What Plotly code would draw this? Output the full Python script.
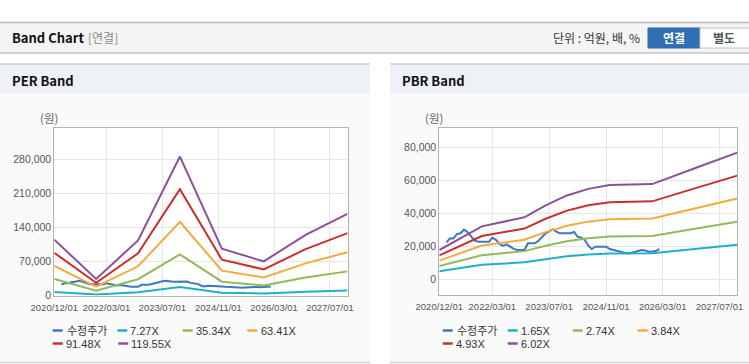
import plotly.graph_objects as go
import pandas as pd

W, H = 749, 364

# ---------------- data ----------------
tick_dates = ["2020-12-01", "2022-03-01", "2023-07-01", "2024-11-01", "2026-03-01", "2027-07-01"]
tick_labels = ["2020/12/01", "2022/03/01", "2023/07/01", "2024/11/01", "2026/03/01", "2027/07/01"]

# adjusted share price (수정주가), monthly from 2021/02
price_dates = pd.date_range("2021-02-01", periods=61, freq="MS")
price = [22500, 24900, 24900, 27500, 28000, 30200, 28600, 26000, 23500, 22900,
         22900, 22900, 22900, 25300, 24000, 21500, 20400, 21300, 20000, 18500,
         17800, 17800, 17800, 21900, 21900, 21900, 23500, 25500, 28000, 29200,
         30400, 29000, 28000, 28000, 28000, 28000, 28800, 25900, 25300, 23900,
         20500, 18400, 19800, 19800, 19800, 19800, 18400, 17800, 17200, 16500,
         16000, 15800, 16000, 16500, 17200, 17800, 17500, 16800, 17000, 17200,
         18400]

# PER band
per_dates = ["2020-12-01", "2021-12-01", "2022-12-01", "2023-12-01", "2024-12-01",
             "2025-12-01", "2026-12-01", "2027-12-01"]
per_names = ["7.27X", "35.34X", "63.41X", "91.48X", "119.55X"]
per_7_27 = [6957, 2065, 6870, 17332, 5838, 4253, 7561, 10178]
per_35_34 = [33820, 10037, 33396, 84251, 28378, 20674, 36754, 49476]
per_63_41 = [60683, 18008, 59922, 151169, 50918, 37095, 65946, 88774]
per_91_48 = [87546, 25980, 86449, 218088, 73458, 53516, 95139, 128072]
per_119_55 = [114409, 33952, 112975, 285007, 95999, 69937, 124332, 167370]
per_yticks = [0, 70000, 140000, 210000, 280000]

# PBR band
pbr_dates = ["2020-12-01", "2021-12-01", "2022-12-01", "2023-06-01", "2023-12-01",
             "2024-06-01", "2024-12-01", "2025-12-01", "2026-12-01", "2027-12-01"]
pbr_names = ["1.65X", "2.74X", "3.84X", "4.93X", "6.02X"]
pbr_1_65 = [4879, 8826, 10332, 12334, 13979, 15074, 15705, 15870, 18501, 21105]
pbr_2_74 = [8102, 14656, 17158, 20482, 23213, 25033, 26079, 26353, 30724, 35047]
pbr_3_84 = [11355, 20540, 24046, 28704, 32532, 35082, 36549, 36933, 43058, 49117]
pbr_4_93 = [14578, 26371, 30872, 36852, 41767, 45040, 46924, 47417, 55280, 63060]
pbr_6_02 = [17801, 32201, 37697, 45000, 51001, 54999, 57298, 57900, 67502, 77002]
pbr_yticks = [0, 20000, 40000, 60000, 80000]

colors = ["#3b78c4", "#1fb0c6", "#93ba58", "#f4aa3c", "#c8302b", "#8e4f9d"]

# ---------------- helpers ----------------
def fx(px):
    return px / W

def fy(py):
    return 1 - py / H

fig = go.Figure()

per_series = [per_7_27, per_35_34, per_63_41, per_91_48, per_119_55]
pbr_series = [pbr_1_65, pbr_2_74, pbr_3_84, pbr_4_93, pbr_6_02]

fig.add_trace(go.Scatter(x=price_dates, y=price, mode="lines", name="수정주가",
                         line=dict(color=colors[0], width=2), xaxis="x", yaxis="y"))
for i, s in enumerate(per_series):
    fig.add_trace(go.Scatter(x=per_dates, y=s, mode="lines", name=per_names[i],
                             line=dict(color=colors[i + 1], width=2), xaxis="x", yaxis="y"))
fig.add_trace(go.Scatter(x=price_dates, y=price, mode="lines", name="수정주가",
                         line=dict(color=colors[0], width=2), xaxis="x2", yaxis="y2"))
for i, s in enumerate(pbr_series):
    fig.add_trace(go.Scatter(x=pbr_dates, y=s, mode="lines", name=pbr_names[i],
                             line=dict(color=colors[i + 1], width=2), xaxis="x2", yaxis="y2"))

grid = "#e6e6e6"
frame = "#b3b3b3"
tickfont_x = dict(family="Liberation Sans, Arial, sans-serif", size=9.5, color="#555")
tickfont_y = dict(family="Liberation Sans, Arial, sans-serif", size=10.5, color="#555")

def xax(domain, anchor):
    return dict(domain=domain, anchor=anchor, type="date",
                range=["2020-12-01", "2027-12-01"],
                tickmode="array", tickvals=tick_dates, ticktext=tick_labels,
                showgrid=True, gridcolor=grid, gridwidth=1,
                showline=True, linecolor=frame, linewidth=1, mirror=True,
                ticks="", tickfont=tickfont_x, zeroline=False, fixedrange=True,
                automargin=False, ticklabelstandoff=3)

def yax(domain, anchor, rng, ticks):
    return dict(domain=domain, anchor=anchor, range=rng,
                tickmode="array", tickvals=ticks, ticktext=[f"{t:,}" for t in ticks],
                showgrid=True, gridcolor=grid, gridwidth=1,
                showline=True, linecolor=frame, linewidth=1, mirror=True,
                ticks="", tickfont=tickfont_y, zeroline=False, fixedrange=True,
                automargin=False)

shapes = []
annotations = []

def rect(x0, y0, x1, y1, fill, line=None, layer="below"):
    shapes.append(dict(type="rect", xref="paper", yref="paper",
                       x0=fx(x0), x1=fx(x1), y0=fy(y1), y1=fy(y0),
                       fillcolor=fill, line=dict(width=1 if line else 0, color=line or fill),
                       layer=layer))

def hline(x0, x1, y, color, width=1):
    shapes.append(dict(type="line", xref="paper", yref="paper",
                       x0=fx(x0), x1=fx(x1), y0=fy(y), y1=fy(y),
                       line=dict(color=color, width=width), layer="below"))

def text(x, y, s, size=12, color="#333", bold=False, anchor="left",
         family="Noto Sans CJK KR, sans-serif"):
    annotations.append(dict(xref="paper", yref="paper", x=fx(x), y=fy(y),
                            text=f"<b>{s}</b>" if bold else s, showarrow=False,
                            xanchor=anchor, yanchor="middle",
                            font=dict(size=size, color=color, family=family)))

# top header bar
rect(0, 22, W, 53, "#f4f4f4")
hline(0, W, 22.5, "#b9b9b9", 1.5)
hline(0, W, 53, "#c6c6c6", 1.5)
text(10, 38, "Band Chart", size=13, color="#111", bold=True)
text(86, 38, "[연결]", size=12, color="#888")
text(551, 38, "단위 : 억원, 배, %", size=12, color="#333")
rect(648, 28, 700, 48, "#2f6fb4", line="#2a65a6")
text(674, 38, "연결", size=12, color="#ffffff", bold=True, anchor="center")
rect(700, 28, 752, 48, "#ffffff", line="#c4c4c4")
text(724, 38, "별도", size=12, color="#555", bold=True, anchor="center")

# panels
for (px0, px1, title) in [(0, 370, "PER Band"), (390, 749, "PBR Band")]:
    rect(px0, 64, px1, 362, "#fafafa")
    rect(px0, 64, px1, 93, "#eef1f6")
    hline(px0, px1, 64, "#cfcfcf", 1.5)
    hline(px0, px1, 362.5, "#d0d0d0", 1.5)
    text(px0 + 10, 80, title, size=13, color="#111", bold=True)

# plot area backgrounds
L1, R1, T1, B1 = 54.3, 347.5, 128.3, 295.5
L2, R2, T2, B2 = 439.3, 737.3, 128.3, 295.0
rect(L1, T1, R1, B1, "#ffffff")
rect(L2, T2, R2, B2, "#ffffff")

text(38, 118, "(원)", size=11.5, color="#666")
text(423, 118, "(원)", size=11.5, color="#666")

# legends
def legend_item(lx, tx, y, color, label):
    shapes.append(dict(type="line", xref="paper", yref="paper",
                       x0=fx(lx), x1=fx(lx + 10), y0=fy(y), y1=fy(y),
                       line=dict(color=color, width=2.5)))
    text(tx, y, label, size=11, color="#333",
         family="Liberation Sans, Noto Sans CJK KR, sans-serif")

r1, r2 = 330.5, 343.5
legend_item(52.7, 65, r1, colors[0], "수정주가")
legend_item(117.3, 127.5, r1, colors[1], per_names[0])
legend_item(182.7, 194, r1, colors[2], per_names[1])
legend_item(247.3, 259, r1, colors[3], per_names[2])
legend_item(52.7, 64, r2, colors[4], per_names[3])
legend_item(118.3, 129, r2, colors[5], per_names[4])

legend_item(442.7, 455, r1, colors[0], "수정주가")
legend_item(507.7, 519, r1, colors[1], pbr_names[0])
legend_item(572.7, 584, r1, colors[2], pbr_names[1])
legend_item(637.7, 649, r1, colors[3], pbr_names[2])
legend_item(442.7, 454.5, r2, colors[4], pbr_names[3])
legend_item(507.7, 519, r2, colors[5], pbr_names[4])

fig.update_layout(
    width=W, height=H,
    margin=dict(l=0, r=0, t=0, b=0, pad=0, autoexpand=False),
    paper_bgcolor="#ffffff",
    plot_bgcolor="rgba(0,0,0,0)",
    showlegend=False,
    xaxis=xax([fx(L1), fx(R1)], "y"),
    yaxis=yax([fy(B1), fy(T1)], "x", [0, 343000], per_yticks),
    xaxis2=xax([fx(L2), fx(R2)], "y2"),
    yaxis2=yax([fy(B2), fy(T2)], "x2", [-9500, 91800], pbr_yticks),
    shapes=shapes,
    annotations=annotations,
    hovermode=False,
)

fig.write_html("out.html", config={"displayModeBar": False},
               post_script="document.body.style.margin='0';document.body.style.padding='0';document.body.style.overflow='hidden';")
